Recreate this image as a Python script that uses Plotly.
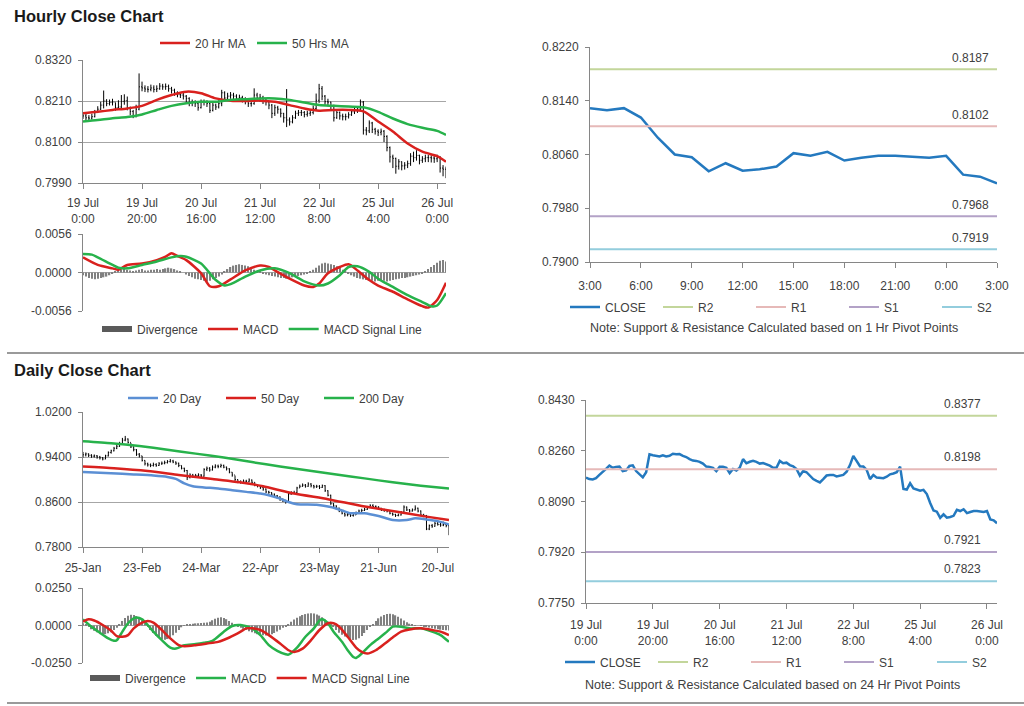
import plotly.graph_objects as go
import pandas as pd

W, H = 1024, 706

# ---------------------------------------------------------------- categories
hour_days = ["19 Jul", "20 Jul", "21 Jul", "22 Jul", "25 Jul"]
hour_labels = [f"{d} {h}:00" for d in hour_days for h in range(24)] + [f"26 Jul {h}:00" for h in range(4)]
hour_tick_pos = [0, 20, 40, 60, 80, 100, 120]
hour_tick_text = ["19 Jul<br>0:00", "19 Jul<br>20:00", "20 Jul<br>16:00", "21 Jul<br>12:00",
                  "22 Jul<br>8:00", "25 Jul<br>4:00", "26 Jul<br>0:00"]

pivot_start = 99
pivot_tick_pos = [0, 3, 6, 9, 12, 15, 18, 21, 24]
pivot_tick_text = ["3:00", "6:00", "9:00", "12:00", "15:00", "18:00", "21:00", "0:00", "3:00"]

day_labels = [f"{d.day}-{d.strftime('%b')}" for d in pd.bdate_range("2011-01-25", periods=131)]
day_tick_pos = [0, 21, 42, 63, 84, 105, 126]

# ---------------------------------------------------------------- hourly data
hourly_close = [
    0.8170, 0.8165, 0.8164, 0.8168, 0.8179, 0.8188, 0.8199, 0.8210, 0.8203, 0.8206,
    0.8207, 0.8192, 0.8194, 0.8209, 0.8211, 0.8192, 0.8182, 0.8171, 0.8188, 0.8248,
    0.8245, 0.8242, 0.8241, 0.8245, 0.8241, 0.8243, 0.8250, 0.8248, 0.8249, 0.8243,
    0.8239, 0.8232, 0.8227, 0.8226, 0.8223, 0.8217, 0.8207, 0.8206, 0.8203, 0.8192,
    0.8206, 0.8206, 0.8203, 0.8185, 0.8199, 0.8194, 0.8203, 0.8232, 0.8218, 0.8223,
    0.8226, 0.8223, 0.8217, 0.8219, 0.8215, 0.8210, 0.8203, 0.8203, 0.8226, 0.8218,
    0.8220, 0.8212, 0.8208, 0.8199, 0.8177, 0.8192, 0.8188, 0.8177, 0.8165, 0.8159,
    0.8154, 0.8165, 0.8177, 0.8179, 0.8179, 0.8174, 0.8177, 0.8179, 0.8190, 0.8212,
    0.8243, 0.8223, 0.8208, 0.8207, 0.8196, 0.8165, 0.8179, 0.8170, 0.8168, 0.8168,
    0.8173, 0.8181, 0.8184, 0.8188, 0.8207, 0.8132, 0.8130, 0.8151, 0.8134, 0.8129,
    0.8126, 0.8129, 0.8115, 0.8085, 0.8060, 0.8056, 0.8035, 0.8047, 0.8036, 0.8038,
    0.8042, 0.8062, 0.8058, 0.8064, 0.8051, 0.8055, 0.8058, 0.8058, 0.8057, 0.8055,
    0.8058, 0.8030, 0.8027, 0.8017]
hourly_high = [
    0.8180, 0.8176, 0.8172, 0.8176, 0.8186, 0.8196, 0.8208, 0.8238, 0.8215, 0.8214,
    0.8216, 0.8206, 0.8212, 0.8226, 0.8228, 0.8222, 0.8195, 0.8186, 0.8200, 0.8284,
    0.8262, 0.8252, 0.8250, 0.8254, 0.8252, 0.8252, 0.8258, 0.8256, 0.8257, 0.8254,
    0.8248, 0.8243, 0.8236, 0.8234, 0.8232, 0.8226, 0.8220, 0.8214, 0.8212, 0.8210,
    0.8214, 0.8214, 0.8212, 0.8206, 0.8207, 0.8203, 0.8212, 0.8240, 0.8236, 0.8232,
    0.8234, 0.8232, 0.8228, 0.8227, 0.8224, 0.8220, 0.8214, 0.8212, 0.8244, 0.8232,
    0.8229, 0.8224, 0.8218, 0.8210, 0.8202, 0.8200, 0.8197, 0.8190, 0.8178, 0.8242,
    0.8166, 0.8172, 0.8184, 0.8186, 0.8186, 0.8183, 0.8184, 0.8187, 0.8198, 0.8230,
    0.8256, 0.8250, 0.8226, 0.8216, 0.8208, 0.8200, 0.8187, 0.8182, 0.8176, 0.8176,
    0.8180, 0.8188, 0.8192, 0.8196, 0.8214, 0.8210, 0.8140, 0.8158, 0.8154, 0.8138,
    0.8134, 0.8136, 0.8132, 0.8118, 0.8088, 0.8066, 0.8058, 0.8054, 0.8048, 0.8046,
    0.8050, 0.8070, 0.8074, 0.8078, 0.8066, 0.8062, 0.8066, 0.8065, 0.8064, 0.8064,
    0.8066, 0.8062, 0.8038, 0.8034]
hourly_low = [
    0.8162, 0.8158, 0.8156, 0.8160, 0.8166, 0.8178, 0.8186, 0.8190, 0.8196, 0.8198,
    0.8198, 0.8184, 0.8186, 0.8190, 0.8200, 0.8185, 0.8172, 0.8164, 0.8166, 0.8185,
    0.8236, 0.8234, 0.8233, 0.8236, 0.8233, 0.8234, 0.8240, 0.8240, 0.8240, 0.8235,
    0.8230, 0.8224, 0.8220, 0.8218, 0.8214, 0.8206, 0.8196, 0.8196, 0.8194, 0.8184,
    0.8190, 0.8198, 0.8194, 0.8178, 0.8182, 0.8186, 0.8190, 0.8196, 0.8208, 0.8212,
    0.8216, 0.8214, 0.8208, 0.8210, 0.8206, 0.8201, 0.8194, 0.8195, 0.8200, 0.8210,
    0.8208, 0.8202, 0.8198, 0.8188, 0.8164, 0.8170, 0.8176, 0.8166, 0.8152, 0.8140,
    0.8144, 0.8150, 0.8162, 0.8170, 0.8170, 0.8166, 0.8168, 0.8170, 0.8174, 0.8186,
    0.8205, 0.8212, 0.8198, 0.8196, 0.8186, 0.8155, 0.8162, 0.8160, 0.8158, 0.8158,
    0.8163, 0.8170, 0.8175, 0.8178, 0.8182, 0.8120, 0.8118, 0.8124, 0.8124, 0.8120,
    0.8116, 0.8118, 0.8100, 0.8075, 0.8045, 0.8030, 0.8015, 0.8026, 0.8024, 0.8026,
    0.8030, 0.8036, 0.8046, 0.8050, 0.8040, 0.8044, 0.8046, 0.8046, 0.8045, 0.8044,
    0.8046, 0.8018, 0.8008, 0.8003]
hourly_open = hourly_close[:1] + hourly_close[:-1]

ma_hr_idx = [0, 5, 10, 15, 20, 25, 30, 35, 40, 45, 50, 55, 60, 65, 70, 75, 80, 85, 90, 95,
             100, 105, 110, 115, 120, 123]
ma20_hr = [0.8177, 0.8181, 0.8186, 0.8190, 0.8197, 0.8213, 0.8226, 0.8235, 0.8231, 0.8217,
           0.8211, 0.8210, 0.8211, 0.8208, 0.8199, 0.8190, 0.8184, 0.8186, 0.8186, 0.8182,
           0.8155, 0.8128, 0.8096, 0.8074, 0.8062, 0.8047]
ma50_hr = [0.8155, 0.8159, 0.8164, 0.8167, 0.8174, 0.8186, 0.8197, 0.8204, 0.8208, 0.8208,
           0.8213, 0.8215, 0.8217, 0.8217, 0.8213, 0.8206, 0.8199, 0.8197, 0.8195, 0.8193,
           0.8181, 0.8163, 0.8148, 0.8138, 0.8130, 0.8119]

macd_hr_idx = [0, 5, 10, 12, 15, 20, 25, 28, 30, 32, 35, 40, 43, 46, 50, 55, 60, 63, 65, 70,
               75, 78, 80, 83, 87, 90, 93, 97, 100, 105, 110, 115, 117, 120, 123]
macd_hr = [0.0022, 0.0011, 0.0006, 0.0004, 0.0011, 0.0013, 0.0018, 0.0023, 0.0028, 0.0024,
           0.0018, -0.0001, -0.0020, -0.0020, -0.0010, 0.0003, 0.0010, 0.0008, 0.0003, -0.0009,
           -0.0019, -0.0021, -0.0016, -0.0001, 0.0008, 0.0012, 0.0003, -0.0011, -0.0019, -0.0028,
           -0.0039, -0.0049, -0.0051, -0.0040, -0.0015]
signal_hr_idx = [0, 3, 5, 10, 12, 15, 20, 25, 30, 33, 35, 40, 45, 48, 50, 55, 60, 65, 70, 75,
                 80, 83, 87, 90, 93, 97, 100, 105, 110, 115, 118, 120, 123]
signal_hr = [0.0027, 0.0026, 0.0022, 0.0011, 0.0007, 0.0006, 0.0011, 0.0016, 0.0022, 0.0024,
             0.0023, 0.0013, -0.0011, -0.0019, -0.0017, -0.0006, 0.0003, 0.0006, -0.0001, -0.0013,
             -0.0019, -0.0016, -0.0004, 0.0008, 0.0009, 0.0001, -0.0009, -0.0021, -0.0033, -0.0043,
             -0.0049, -0.0048, -0.0030]
divergence_hr = [
    -0.0004, -0.0006, -0.0008, -0.0009, -0.0010, -0.0009, -0.0008, -0.0007, -0.0006, -0.0004, -0.0002,
    0.0001, 0.0003, 0.0004, 0.0005, 0.0004, 0.0003, 0.0002, 0.0003, 0.0004, 0.0005,
    0.0003, 0.0003, 0.0004, 0.0004, 0.0005, 0.0004, 0.0005, 0.0006, 0.0007, 0.0006, 0.0005, 0.0003, 0.0001, 0.0000,
    -0.0003, -0.0005, -0.0007, -0.0009, -0.0010, -0.0011, -0.0012, -0.0013, -0.0012, -0.0010, -0.0008, -0.0006, -0.0003,
    0.0002, 0.0005, 0.0008, 0.0010, 0.0011, 0.0012, 0.0011, 0.0010, 0.0009, 0.0007, 0.0004,
    0.0002, 0.0001, -0.0001, -0.0003, -0.0004, -0.0005, -0.0006, -0.0007, -0.0008, -0.0008, -0.0009,
    -0.0008, -0.0007, -0.0006, -0.0005, -0.0004, -0.0003, -0.0002,
    0.0001, 0.0004, 0.0007, 0.0010, 0.0013, 0.0014, 0.0013, 0.0012, 0.0011, 0.0009, 0.0007, 0.0004,
    0.0001, -0.0002, -0.0004, -0.0006, -0.0008, -0.0009, -0.0010, -0.0011, -0.0012, -0.0012, -0.0013,
    -0.0012, -0.0011, -0.0012, -0.0013, -0.0012, -0.0011, -0.0010, -0.0009, -0.0008, -0.0008, -0.0007,
    -0.0006, -0.0005, -0.0004, -0.0003, -0.0002,
    0.0002, 0.0005, 0.0008, 0.0011, 0.0014, 0.0017, 0.0018, 0.0016]

# pivot levels
pivot_names = ["R2", "R1", "S1", "S2"]
hr_pivots = [0.8187, 0.8102, 0.7968, 0.7919]
day_pivots = [0.8377, 0.8198, 0.7921, 0.7823]

# ---------------------------------------------------------------- daily data
daily_close = [
    0.9440, 0.9455, 0.9430, 0.9415, 0.9420, 0.9400, 0.9385, 0.9365, 0.9420, 0.9480,
    0.9510, 0.9555, 0.9590, 0.9640, 0.9700, 0.9720, 0.9660, 0.9580, 0.9530, 0.9450,
    0.9420, 0.9340, 0.9280, 0.9260, 0.9250, 0.9265, 0.9250, 0.9280, 0.9290, 0.9300,
    0.9320, 0.9330, 0.9310, 0.9290, 0.9250, 0.9200, 0.9160, 0.9040, 0.9080, 0.9060,
    0.9070, 0.9080, 0.9060, 0.9180, 0.9200, 0.9170, 0.9220, 0.9240, 0.9230, 0.9250,
    0.9220, 0.9190, 0.9130, 0.9080, 0.9000, 0.8960, 0.8950, 0.8970, 0.8960, 0.8990,
    0.8950, 0.8900, 0.8890, 0.8860, 0.8830, 0.8780, 0.8770, 0.8740, 0.8710, 0.8690,
    0.8650, 0.8620, 0.8600, 0.8740, 0.8760, 0.8770, 0.8850, 0.8880, 0.8900, 0.8880,
    0.8920, 0.8890, 0.8870, 0.8880, 0.8860, 0.8890, 0.8800, 0.8720, 0.8570, 0.8530,
    0.8490, 0.8440, 0.8400, 0.8370, 0.8380, 0.8360, 0.8370, 0.8400, 0.8440, 0.8450,
    0.8470, 0.8500, 0.8540, 0.8520, 0.8510, 0.8490, 0.8460, 0.8450, 0.8440, 0.8400,
    0.8380, 0.8360, 0.8370, 0.8420, 0.8510, 0.8460, 0.8440, 0.8460, 0.8490, 0.8440,
    0.8370, 0.8360, 0.8120, 0.8180, 0.8170, 0.8220, 0.8200, 0.8190, 0.8200, 0.8180,
    0.8020]
daily_high = [
    0.9490, 0.9480, 0.9465, 0.9450, 0.9445, 0.9435, 0.9420, 0.9400, 0.9440, 0.9500,
    0.9530, 0.9580, 0.9615, 0.9670, 0.9740, 0.9775, 0.9730, 0.9650, 0.9590, 0.9540,
    0.9470, 0.9420, 0.9340, 0.9300, 0.9285, 0.9300, 0.9290, 0.9310, 0.9320, 0.9335,
    0.9345, 0.9365, 0.9350, 0.9320, 0.9300, 0.9250, 0.9210, 0.9170, 0.9110, 0.9100,
    0.9100, 0.9110, 0.9095, 0.9200, 0.9230, 0.9220, 0.9250, 0.9270, 0.9265, 0.9280,
    0.9265, 0.9230, 0.9200, 0.9130, 0.9070, 0.9000, 0.8985, 0.9000, 0.8995, 0.9020,
    0.9000, 0.8950, 0.8920, 0.8890, 0.8870, 0.8840, 0.8800, 0.8775, 0.8750, 0.8725,
    0.8700, 0.8660, 0.8640, 0.8760, 0.8790, 0.8800, 0.8870, 0.8910, 0.8930, 0.8920,
    0.8950, 0.8935, 0.8905, 0.8905, 0.8900, 0.8910, 0.8900, 0.8810, 0.8730, 0.8580,
    0.8540, 0.8500, 0.8450, 0.8410, 0.8410, 0.8400, 0.8400, 0.8430, 0.8465, 0.8480,
    0.8495, 0.8530, 0.8560, 0.8560, 0.8540, 0.8525, 0.8495, 0.8480, 0.8470, 0.8445,
    0.8410, 0.8390, 0.8395, 0.8440, 0.8540, 0.8520, 0.8475, 0.8485, 0.8540, 0.8500,
    0.8450, 0.8390, 0.8370, 0.8200, 0.8210, 0.8250, 0.8250, 0.8230, 0.8250, 0.8220,
    0.8200]
daily_low = [
    0.9390, 0.9410, 0.9400, 0.9385, 0.9390, 0.9370, 0.9355, 0.9340, 0.9360, 0.9410,
    0.9460, 0.9500, 0.9540, 0.9580, 0.9630, 0.9680, 0.9640, 0.9560, 0.9500, 0.9420,
    0.9390, 0.9320, 0.9250, 0.9230, 0.9220, 0.9230, 0.9225, 0.9240, 0.9260, 0.9270,
    0.9285, 0.9300, 0.9290, 0.9260, 0.9220, 0.9180, 0.9130, 0.8990, 0.9020, 0.9030,
    0.9040, 0.9045, 0.9030, 0.9050, 0.9150, 0.9140, 0.9160, 0.9200, 0.9200, 0.9210,
    0.9200, 0.9160, 0.9110, 0.9050, 0.8970, 0.8935, 0.8925, 0.8935, 0.8930, 0.8950,
    0.8930, 0.8880, 0.8860, 0.8830, 0.8800, 0.8760, 0.8745, 0.8715, 0.8690, 0.8660,
    0.8620, 0.8600, 0.8570, 0.8590, 0.8730, 0.8745, 0.8760, 0.8850, 0.8870, 0.8855,
    0.8870, 0.8860, 0.8840, 0.8850, 0.8830, 0.8850, 0.8780, 0.8700, 0.8550, 0.8500,
    0.8460, 0.8420, 0.8380, 0.8340, 0.8345, 0.8335, 0.8340, 0.8370, 0.8395, 0.8425,
    0.8440, 0.8460, 0.8500, 0.8500, 0.8485, 0.8465, 0.8440, 0.8425, 0.8415, 0.8380,
    0.8355, 0.8335, 0.8345, 0.8360, 0.8410, 0.8440, 0.8415, 0.8430, 0.8450, 0.8415,
    0.8350, 0.8330, 0.8100, 0.8100, 0.8140, 0.8160, 0.8180, 0.8160, 0.8170, 0.8150,
    0.8010]
daily_open = daily_close[:1] + daily_close[:-1]

ma200_idx = [0, 10, 20, 30, 40, 50, 60, 70, 80, 90, 100, 110, 120, 130]
ma200_d = [0.9680, 0.9645, 0.9595, 0.9530, 0.9460, 0.9390, 0.9310, 0.9230, 0.9160, 0.9090,
           0.9020, 0.8950, 0.8890, 0.8840]
ma50_idx = [0, 11, 23, 34, 46, 58, 64, 75, 87, 99, 111, 122, 130]
ma50_d = [0.9230, 0.9200, 0.9150, 0.9080, 0.9010, 0.8935, 0.8880, 0.8750, 0.8650, 0.8530,
          0.8430, 0.8340, 0.8280]
ma20_idx = [0, 10, 18, 25, 30, 33, 36, 39, 43, 48, 53, 58, 63, 66, 70, 73, 76, 83, 88, 92,
            95, 100, 105, 110, 115, 118, 122, 126, 130]
ma20_d = [0.9135, 0.9110, 0.9090, 0.9070, 0.9045, 0.9010, 0.8930, 0.8880, 0.8860, 0.8840,
          0.8810, 0.8780, 0.8750, 0.8720, 0.8660, 0.8600, 0.8560, 0.8550, 0.8510, 0.8450,
          0.8400, 0.8400, 0.8350, 0.8280, 0.8280, 0.8310, 0.8290, 0.8260, 0.8200]

macd_d_idx = [0, 3, 6, 9, 11, 12, 14, 16, 18, 19, 21, 23, 25, 28, 31, 33, 36, 40, 43, 46,
              50, 53, 56, 60, 63, 66, 69, 72, 73, 76, 79, 82, 84, 85, 87, 89, 92, 94, 96, 97,
              99, 102, 105, 108, 110, 113, 116, 120, 124, 127, 130]
macd_d = [0.0041, -0.0008, -0.0048, -0.0086, -0.0102, -0.0098, -0.0041, 0.0015, 0.0048, 0.0053,
          0.0041, 0.0003, -0.0041, -0.0098, -0.0147, -0.0154, -0.0131, -0.0124, -0.0115, -0.0102,
          -0.0041, -0.0003, 0.0003, -0.0019, -0.0064, -0.0131, -0.0169, -0.0192, -0.0194, -0.0147,
          -0.0075, -0.0019, 0.0033, 0.0041, 0.0015, -0.0041, -0.0109, -0.0165, -0.0210, -0.0216,
          -0.0187, -0.0131, -0.0086, -0.0041, -0.0008, -0.0008, -0.0019, -0.0019, -0.0041, -0.0064,
          -0.0109]
signal_d_idx = [0, 2, 4, 7, 10, 12, 14, 16, 18, 21, 23, 25, 28, 31, 34, 36, 40, 44, 48, 52,
                56, 58, 60, 63, 66, 70, 73, 75, 78, 81, 84, 87, 89, 91, 94, 97, 99, 101, 104, 107,
                110, 113, 116, 120, 124, 127, 130]
signal_d = [0.0026, 0.0041, 0.0033, 0.0003, -0.0035, -0.0071, -0.0075, -0.0064, -0.0019, 0.0019,
            0.0030, 0.0019, -0.0030, -0.0086, -0.0131, -0.0138, -0.0131, -0.0120, -0.0109, -0.0080,
            -0.0041, -0.0019, -0.0019, -0.0030, -0.0064, -0.0120, -0.0165, -0.0176, -0.0154, -0.0098,
            -0.0030, 0.0015, 0.0015, -0.0008, -0.0075, -0.0147, -0.0176, -0.0187, -0.0165, -0.0124,
            -0.0080, -0.0041, -0.0026, -0.0019, -0.0030, -0.0041, -0.0064]
divergence_d = [
    0.0015, 0.0005, -0.0010,
    -0.0025, -0.0035, -0.0045, -0.0055, -0.0060, -0.0058, -0.0052, -0.0045, -0.0030, -0.0015,
    0.0010, 0.0030, 0.0050, 0.0065, 0.0072, 0.0070, 0.0062, 0.0050, 0.0035, 0.0015,
    -0.0010, -0.0030, -0.0050, -0.0068, -0.0080, -0.0090, -0.0095, -0.0090, -0.0080, -0.0065, -0.0048, -0.0030, -0.0012,
    0.0003, 0.0008, 0.0010, 0.0012, 0.0014, 0.0015, 0.0016, 0.0018, 0.0020, 0.0025, 0.0035, 0.0045,
    0.0052, 0.0055, 0.0050, 0.0042, 0.0030, 0.0018, 0.0005, -0.0008,
    -0.0015, -0.0022, -0.0030, -0.0038, -0.0045, -0.0052, -0.0058, -0.0062, -0.0065, -0.0066,
    -0.0064, -0.0058, -0.0050, -0.0040, -0.0028, -0.0015, -0.0005,
    0.0010, 0.0025, 0.0040, 0.0052, 0.0062, 0.0070, 0.0076, 0.0080, 0.0082, 0.0080, 0.0074,
    0.0066, 0.0055, 0.0040, 0.0025, 0.0010,
    -0.0010, -0.0030, -0.0048, -0.0062, -0.0074, -0.0084, -0.0092, -0.0097, -0.0095, -0.0085,
    -0.0070, -0.0050, -0.0030,
    -0.0010, 0.0010, 0.0030, 0.0048, 0.0060, 0.0070, 0.0076, 0.0078, 0.0075, 0.0068, 0.0058,
    0.0046, 0.0034, 0.0022, 0.0012, 0.0005,
    0.0002, 0.0000, -0.0003, -0.0006, -0.0010, -0.0014, -0.0018, -0.0022, -0.0025, -0.0028,
    -0.0030, -0.0032, -0.0034]

# axis ticks
hr_price_ticks = [0.7990, 0.8100, 0.8210, 0.8320]
hr_macd_ticks = [-0.0056, 0.0000, 0.0056]
hr_pivot_ticks = [0.7900, 0.7980, 0.8060, 0.8140, 0.8220]
d_price_ticks = [0.7800, 0.8600, 0.9400, 1.0200]
d_macd_ticks = [-0.0250, 0.0000, 0.0250]
d_pivot_ticks = [0.7750, 0.7920, 0.8090, 0.8260, 0.8430]

for name, arr, n in [("hourly_close", hourly_close, 124), ("hourly_high", hourly_high, 124),
                     ("hourly_low", hourly_low, 124), ("divergence_hr", divergence_hr, 124),
                     ("daily_close", daily_close, 131), ("daily_high", daily_high, 131),
                     ("daily_low", daily_low, 131), ("divergence_d", divergence_d, 131)]:
    if len(arr) != n:
        raise SystemExit(f"{name} has {len(arr)} values, expected {n}")

# ---------------------------------------------------------------- styling
FONT = "Liberation Sans, Arial, sans-serif"
TXT = "#404040"
AXC = "#868686"
GRID = "#a6a6a6"
RED = "#d9211e"
GREEN = "#27b24b"
BLUE20 = "#5b8fd4"
CLOSE_BLUE = "#2479bf"
PIV_COLORS = ["#c3d69b", "#e6b9b8", "#b3a2c7", "#93cddd"]


def dx(a, b):
    return [a / W, b / W]


def dy(top, bottom):
    return [1 - bottom / H, 1 - top / H]


def yaxis(dom, ticks, grid, anchor):
    return dict(domain=dom, range=[ticks[0], ticks[-1]], tickmode="array", tickvals=ticks,
                ticktext=[f"{t:.4f}" for t in ticks], showgrid=grid, gridcolor=GRID, gridwidth=1,
                showline=True, linecolor=AXC, linewidth=1, ticks="outside", ticklen=4,
                tickcolor=AXC, tickfont=dict(size=12, color=TXT), zeroline=False,
                anchor=anchor, fixedrange=True, ticklabelstandoff=4, automargin=False)


def xaxis(dom, cats, rng, tickpos, ticktext, anchor, show=True, standoff=3):
    d = dict(domain=dom, type="category", categoryorder="array", categoryarray=cats,
             range=rng, anchor=anchor, fixedrange=True, showgrid=False, zeroline=False,
             rangeslider=dict(visible=False), automargin=False)
    if show:
        d.update(showline=True, linecolor=AXC, linewidth=1, ticks="outside", ticklen=5,
                 tickcolor=AXC, tickmode="array", tickvals=[cats[i] for i in tickpos],
                 ticktext=ticktext, tickangle=0, tickfont=dict(size=12, color=TXT),
                 ticklabelstandoff=standoff)
    else:
        d.update(showline=False, showticklabels=False, ticks="")
    return d


def legend(x, y, ew=None):
    d = dict(orientation="h", x=x / W, y=1 - y / H, xanchor="left", yanchor="middle",
             bgcolor="rgba(0,0,0,0)", borderwidth=0, font=dict(size=12, color=TXT, family=FONT),
             itemclick=False, itemdoubleclick=False)
    if ew:
        d.update(entrywidth=ew, entrywidthmode="pixels")
    return d


fig = go.Figure()

# ---------------- panel 1: hourly OHLC
fig.add_trace(go.Ohlc(x=hour_labels, open=hourly_open, high=hourly_high, low=hourly_low,
                      close=hourly_close, xaxis="x", yaxis="y", showlegend=False, tickwidth=0.3,
                      increasing=dict(line=dict(color="black", width=1)),
                      decreasing=dict(line=dict(color="black", width=1)), hoverinfo="skip"))
fig.add_trace(go.Scatter(x=[hour_labels[i] for i in ma_hr_idx], y=ma20_hr, mode="lines",
                         name="20 Hr MA", line=dict(color=RED, width=2.5, shape="spline", smoothing=0.8),
                         xaxis="x", yaxis="y", legend="legend"))
fig.add_trace(go.Scatter(x=[hour_labels[i] for i in ma_hr_idx], y=ma50_hr, mode="lines",
                         name="50 Hrs MA", line=dict(color=GREEN, width=2.5, shape="spline", smoothing=0.8),
                         xaxis="x", yaxis="y", legend="legend"))

# ---------------- panel 1b: hourly MACD
fig.add_trace(go.Scatter(x=[None], y=[None], mode="lines", name="Divergence",
                         line=dict(color="#5a5a5a", width=6), xaxis="x2", yaxis="y2", legend="legend2"))
fig.add_trace(go.Bar(x=hour_labels, y=divergence_hr, marker=dict(color="#808080", line=dict(width=0)),
                     showlegend=False, xaxis="x2", yaxis="y2", hoverinfo="skip"))
fig.add_trace(go.Scatter(x=[hour_labels[i] for i in macd_hr_idx], y=macd_hr, mode="lines", name="MACD",
                         line=dict(color=RED, width=2.5, shape="spline", smoothing=0.7),
                         xaxis="x2", yaxis="y2", legend="legend2"))
fig.add_trace(go.Scatter(x=[hour_labels[i] for i in signal_hr_idx], y=signal_hr, mode="lines",
                         name="MACD Signal Line",
                         line=dict(color=GREEN, width=2.5, shape="spline", smoothing=0.7),
                         xaxis="x2", yaxis="y2", legend="legend2"))

# ---------------- panel 2: hourly pivot
pivot_hours = hour_labels[pivot_start:]
fig.add_trace(go.Scatter(x=pivot_hours, y=hourly_close[pivot_start:], mode="lines", name="CLOSE",
                         line=dict(color=CLOSE_BLUE, width=2.5), xaxis="x3", yaxis="y3", legend="legend3"))
for nm, v, c in zip(pivot_names, hr_pivots, PIV_COLORS):
    fig.add_trace(go.Scatter(x=[pivot_hours[0], pivot_hours[-1]], y=[v, v], mode="lines", name=nm,
                             line=dict(color=c, width=2), xaxis="x3", yaxis="y3", legend="legend3"))

# ---------------- panel 3: daily OHLC
fig.add_trace(go.Ohlc(x=day_labels, open=daily_open, high=daily_high, low=daily_low,
                      close=daily_close, xaxis="x4", yaxis="y4", showlegend=False, tickwidth=0.3,
                      increasing=dict(line=dict(color="black", width=1)),
                      decreasing=dict(line=dict(color="black", width=1)), hoverinfo="skip"))
fig.add_trace(go.Scatter(x=[day_labels[i] for i in ma20_idx], y=ma20_d, mode="lines", name="20 Day",
                         line=dict(color=BLUE20, width=2.5, shape="spline", smoothing=0.6),
                         xaxis="x4", yaxis="y4", legend="legend4"))
fig.add_trace(go.Scatter(x=[day_labels[i] for i in ma50_idx], y=ma50_d, mode="lines", name="50 Day",
                         line=dict(color=RED, width=2.5, shape="spline", smoothing=0.6),
                         xaxis="x4", yaxis="y4", legend="legend4"))
fig.add_trace(go.Scatter(x=[day_labels[i] for i in ma200_idx], y=ma200_d, mode="lines", name="200 Day",
                         line=dict(color=GREEN, width=2.5, shape="spline", smoothing=0.6),
                         xaxis="x4", yaxis="y4", legend="legend4"))

# ---------------- panel 3b: daily MACD
fig.add_trace(go.Scatter(x=[None], y=[None], mode="lines", name="Divergence",
                         line=dict(color="#5a5a5a", width=6), xaxis="x5", yaxis="y5", legend="legend5"))
fig.add_trace(go.Bar(x=day_labels, y=divergence_d, marker=dict(color="#808080", line=dict(width=0)),
                     showlegend=False, xaxis="x5", yaxis="y5", hoverinfo="skip"))
fig.add_trace(go.Scatter(x=[day_labels[i] for i in macd_d_idx], y=macd_d, mode="lines", name="MACD",
                         line=dict(color=GREEN, width=2.5, shape="spline", smoothing=0.7),
                         xaxis="x5", yaxis="y5", legend="legend5"))
fig.add_trace(go.Scatter(x=[day_labels[i] for i in signal_d_idx], y=signal_d, mode="lines",
                         name="MACD Signal Line",
                         line=dict(color=RED, width=2.5, shape="spline", smoothing=0.7),
                         xaxis="x5", yaxis="y5", legend="legend5"))

# ---------------- panel 4: daily pivot (hourly close over the week)
fig.add_trace(go.Scatter(x=hour_labels, y=hourly_close, mode="lines", name="CLOSE",
                         line=dict(color=CLOSE_BLUE, width=2.5), xaxis="x6", yaxis="y6", legend="legend6"))
for nm, v, c in zip(pivot_names, day_pivots, PIV_COLORS):
    fig.add_trace(go.Scatter(x=[hour_labels[0], hour_labels[-1]], y=[v, v], mode="lines", name=nm,
                             line=dict(color=c, width=2), xaxis="x6", yaxis="y6", legend="legend6"))

# ---------------------------------------------------------------- annotations
ann = []
ann.append(dict(text="<b>Hourly Close Chart</b>", x=12 / W, y=1 - 16 / H, xref="paper", yref="paper",
                xanchor="left", yanchor="middle", showarrow=False, font=dict(size=16.5, color="#1a1a1a")))
ann.append(dict(text="<b>Daily Close Chart</b>", x=12 / W, y=1 - 370 / H, xref="paper", yref="paper",
                xanchor="left", yanchor="middle", showarrow=False, font=dict(size=16.5, color="#1a1a1a")))
ann.append(dict(text="Note: Support & Resistance Calculated based on 1 Hr Pivot Points",
                x=774 / W, y=1 - 328 / H, xref="paper", yref="paper", xanchor="center", yanchor="middle",
                showarrow=False, font=dict(size=12.5, color=TXT)))
ann.append(dict(text="Note: Support & Resistance Calculated based on 24 Hr Pivot Points",
                x=772 / W, y=1 - 685 / H, xref="paper", yref="paper", xanchor="center", yanchor="middle",
                showarrow=False, font=dict(size=12.5, color=TXT)))
for v in hr_pivots:
    ann.append(dict(text=f"{v:.4f}", x=pivot_hours[-1], y=v, xref="x3", yref="y3", xanchor="right",
                    yanchor="bottom", xshift=-6, yshift=2, showarrow=False, font=dict(size=12, color=TXT)))
for v in day_pivots:
    ann.append(dict(text=f"{v:.4f}", x=hour_labels[-1], y=v, xref="x6", yref="y6", xanchor="right",
                    yanchor="bottom", xshift=-14, yshift=3, showarrow=False, font=dict(size=12, color=TXT)))

shapes = [
    dict(type="line", xref="paper", yref="paper", x0=7 / W, x1=1, y0=1 - 353 / H, y1=1 - 353 / H,
         line=dict(color="#9a9a9a", width=2)),
    dict(type="line", xref="paper", yref="paper", x0=7 / W, x1=1, y0=1 - 703 / H, y1=1 - 703 / H,
         line=dict(color="#9a9a9a", width=2)),
]

fig.update_layout(
    width=W, height=H, autosize=False, margin=dict(l=0, r=0, t=0, b=0, autoexpand=False),
    paper_bgcolor="white", plot_bgcolor="white", font=dict(family=FONT, color=TXT, size=12),
    bargap=0.55, showlegend=True, annotations=ann, shapes=shapes,
    xaxis=xaxis(dx(83, 446), hour_labels, [0, 123], hour_tick_pos, hour_tick_text, "y", standoff=4),
    yaxis=yaxis(dy(60, 183), hr_price_ticks, True, "x"),
    xaxis2=xaxis(dx(83, 446), hour_labels, [0, 123], [], [], "y2", show=False),
    yaxis2=yaxis(dy(234, 311), hr_macd_ticks, True, "x2"),
    xaxis3=xaxis(dx(590, 997), pivot_hours, [0, 24], pivot_tick_pos, pivot_tick_text, "y3", standoff=8),
    yaxis3=yaxis(dy(47, 262), hr_pivot_ticks, False, "x3"),
    xaxis4=xaxis(dx(83, 449), day_labels, [0, 130], day_tick_pos, [day_labels[i] for i in day_tick_pos],
                 "y4", standoff=5),
    yaxis4=yaxis(dy(412, 547), d_price_ticks, True, "x4"),
    xaxis5=xaxis(dx(83, 449), day_labels, [0, 130], [], [], "y5", show=False),
    yaxis5=yaxis(dy(588, 663), d_macd_ticks, True, "x5"),
    xaxis6=xaxis(dx(586, 997), hour_labels, [0, 123], hour_tick_pos, hour_tick_text, "y6", standoff=6),
    yaxis6=yaxis(dy(400, 603), d_pivot_ticks, False, "x6"),
    legend=legend(155, 43, 52),
    legend2=legend(97, 329),
    legend3=legend(565, 307, 48),
    legend4=legend(123, 398, 53),
    legend5=legend(85, 678),
    legend6=legend(560, 662, 48),
)

fig.write_html("out.html", config={"displayModeBar": False},
               post_script="document.body.style.margin='0px';")
